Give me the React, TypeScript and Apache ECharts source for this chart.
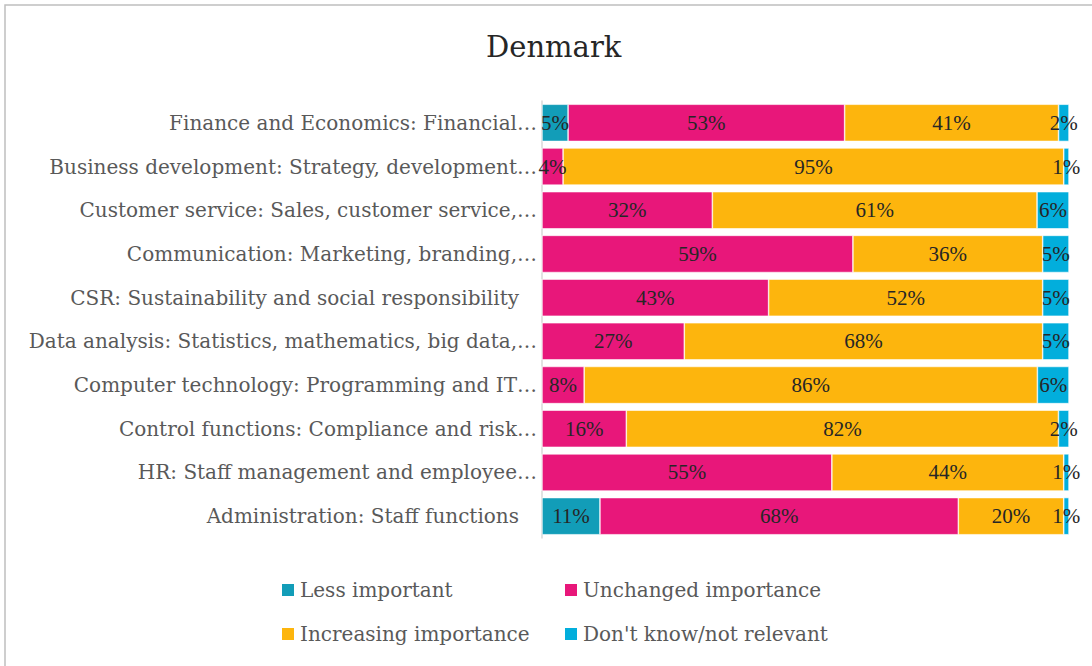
import React, { useEffect, useRef } from "react";
import * as echarts from "echarts";

const categories = [
  "Finance and Economics: Financial…",
  "Business development: Strategy, development…",
  "Customer service: Sales, customer service,…",
  "Communication: Marketing, branding,…",
  "CSR: Sustainability and social responsibility ",
  "Data analysis: Statistics, mathematics, big data,…",
  "Computer technology: Programming and IT…",
  "Control functions: Compliance and risk…",
  "HR: Staff management and employee…",
  "Administration: Staff functions ",
];

const seriesNames = [
  "Less important",
  "Unchanged importance",
  "Increasing importance",
  "Don't know/not relevant",
];

const lessImportant = [5, 0, 0, 0, 0, 0, 0, 0, 0, 11];
const unchanged = [53, 4, 32, 59, 43, 27, 8, 16, 55, 68];
const increasing = [41, 95, 61, 36, 52, 68, 86, 82, 44, 20];
const dontKnow = [2, 1, 6, 5, 5, 5, 6, 2, 1, 1];

const colors = ["#129DB8", "#E8177A", "#FDB50D", "#02AEDC"];

const FONT = "DejaVu Serif";
const LABEL_FONT = "Liberation Serif";

export default function App() {
  const ref = useRef<HTMLDivElement>(null);
  useEffect(() => {
    document.body.style.margin = "0";
    const chart = echarts.init(ref.current!, null, { renderer: "svg" });
    const all = [lessImportant, unchanged, increasing, dontKnow];
    const sums = categories.map((_, i) => all.reduce((s, a) => s + a[i], 0));
    const series = all.map((arr, k) => ({
      name: seriesNames[k],
      type: "bar",
      stack: "total",
      barCategoryGap: "15%",
      itemStyle: { color: colors[k], borderColor: "#ffffff", borderWidth: 0.6 },
      label: {
        show: true,
        position: "inside",
        color: "#262626",
        fontFamily: LABEL_FONT,
        fontSize: 21,
        formatter: (p: any) => (p.data.raw > 0 ? p.data.raw + "%" : ""),
      },
      data: arr.map((v, i) => ({ value: (v / sums[i]) * 100, raw: v })),
    }));
    const legendPos = [
      { left: 280, top: 580 },
      { left: 563, top: 580 },
      { left: 280, top: 624 },
      { left: 563, top: 624 },
    ];
    chart.setOption({
      animation: false,
      title: {
        text: "Denmark",
        left: 486,
        top: 32,
        padding: 0,
        textStyle: { fontFamily: FONT, fontSize: 29, fontWeight: "normal", color: "#262626" },
      },
      legend: seriesNames.map((n, k) => ({
        data: [n],
        left: legendPos[k].left,
        top: legendPos[k].top,
        padding: 0,
        itemWidth: 14,
        itemHeight: 14,
        icon: "rect",
        itemGap: 0,
        selectedMode: false,
        textStyle: { fontFamily: FONT, fontSize: 20, color: "#595959", padding: [0, 0, 0, 0] },
      })),
      grid: { left: 542, right: 23, top: 101, bottom: 128, containLabel: false },
      xAxis: {
        type: "value",
        min: 0,
        max: 100,
        show: false,
      },
      yAxis: {
        type: "category",
        inverse: true,
        data: categories,
        axisLine: { show: true, lineStyle: { color: "#D9D9D9", width: 1.5 } },
        axisTick: { show: false },
        axisLabel: {
          fontFamily: FONT,
          fontSize: 20,
          color: "#595959",
          margin: 5,
          formatter: (v: string) =>
            v.endsWith(" ") ? "{pad|" + v.trim() + "}" : v,
          rich: {
            pad: { fontFamily: FONT, fontSize: 20, color: "#595959", padding: [0, 18, 0, 0] },
          },
        },
      },
      graphic: [
        {
          type: "rect",
          shape: { x: 5, y: 5, width: 1200, height: 800 },
          style: { fill: "none", stroke: "#BFBFBF", lineWidth: 1.5 },
          silent: true,
        },
      ],
      series,
    });
    return () => chart.dispose();
  }, []);
  return <div ref={ref} style={{ width: 1092, height: 666 }} />;
}
